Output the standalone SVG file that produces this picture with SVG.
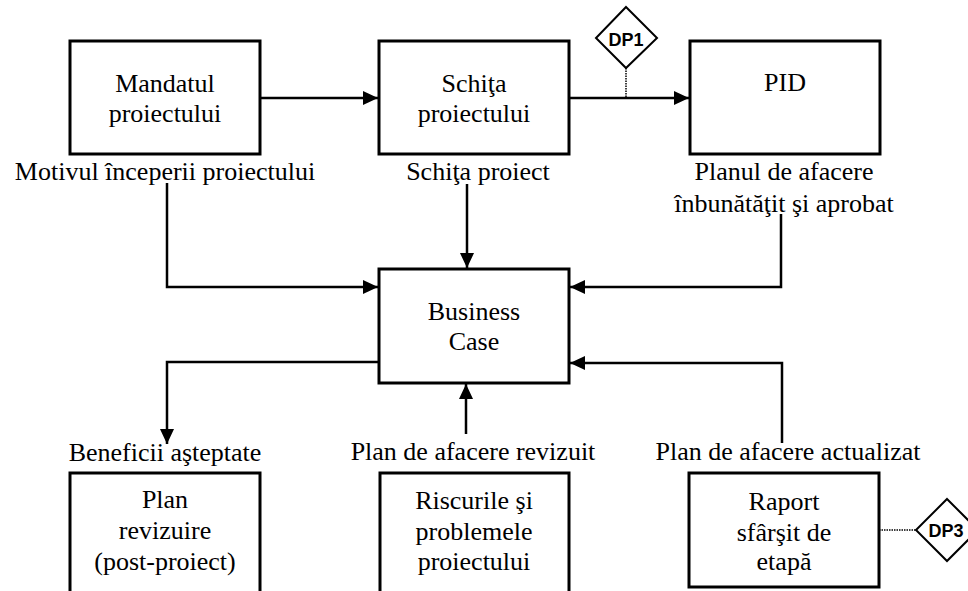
<svg xmlns="http://www.w3.org/2000/svg" width="968" height="591" viewBox="0 0 968 591">
<style>
.box{fill:#fff;stroke:#000;stroke-width:3}
.ln{fill:none;stroke:#000;stroke-width:2.5}
.dot{fill:none;stroke:#000;stroke-width:1.5;stroke-dasharray:1.5 1}
.dia{fill:#fff;stroke:#000;stroke-width:2}
.t{font-family:'Liberation Serif','Times New Roman',Times,serif;font-size:26px;fill:#000;text-anchor:middle}
.dp{font-family:'Liberation Sans',Arial,sans-serif;font-size:18px;font-weight:bold;fill:#000;text-anchor:middle}
</style>
<defs>
<marker id="ah" markerWidth="15" markerHeight="14" refX="15" refY="7" orient="auto" markerUnits="userSpaceOnUse">
<path d="M0,0 L15,7 L0,14 Z" fill="#000"/>
</marker>
</defs>
<rect width="968" height="591" fill="#fff"/>
<g id="connectors">
<path class="ln" d="M260,98 H378" marker-end="url(#ah)"/>
<path class="ln" d="M569,98 H689" marker-end="url(#ah)"/>
<path class="dot" d="M626,68 V98"/>
<path class="ln" d="M167,183 V287 H378" marker-end="url(#ah)"/>
<path class="ln" d="M467,184 V268" marker-end="url(#ah)"/>
<path class="ln" d="M781,214 V287 H570" marker-end="url(#ah)"/>
<path class="ln" d="M379,362 H167 V444" marker-end="url(#ah)"/>
<path class="ln" d="M466,434 V384" marker-end="url(#ah)"/>
<path class="ln" d="M782,443 V363 H570" marker-end="url(#ah)"/>
<path class="dot" d="M879,530 H916"/>
</g>
<g id="mandatul" class="t" font-family="Liberation Serif, serif">
<rect class="box" x="70" y="41" width="190" height="113"/>
<text x="165" y="92">Mandatul</text>
<text x="165" y="122">proiectului</text>
<text x="165" y="180">Motivul începerii proiectului</text>
</g>
<g id="schita" class="t" font-family="Liberation Serif, serif">
<rect class="box" x="379" y="41" width="190" height="113"/>
<text x="474" y="92">Schiţa</text>
<text x="474" y="122">proiectului</text>
<text x="478" y="180">Schiţa proiect</text>
</g>
<g id="pid" class="t" font-family="Liberation Serif, serif">
<rect class="box" x="690" y="41" width="190" height="113"/>
<text x="785" y="91">PID</text>
<text x="784" y="180">Planul de afacere</text>
<text x="784" y="212">înbunătăţit şi aprobat</text>
</g>
<g id="dp1">
<polygon class="dia" points="626,7 657,38 626,68 596,38"/>
<text class="dp" x="626" y="46">DP1</text>
</g>
<g id="business-case" class="t" font-family="Liberation Serif, serif">
<rect class="box" x="379" y="269" width="190" height="114"/>
<text x="474" y="320">Business</text>
<text x="474" y="350">Case</text>
</g>
<g id="plan-revizuire" class="t" font-family="Liberation Serif, serif">
<text x="165" y="461">Beneficii aşteptate</text>
<rect class="box" x="70" y="473" width="190" height="130"/>
<text x="165" y="508">Plan</text>
<text x="165" y="539">revizuire</text>
<text x="165" y="570">(post-proiect)</text>
</g>
<g id="riscurile" class="t" font-family="Liberation Serif, serif">
<text x="473" y="460">Plan de afacere revizuit</text>
<rect class="box" x="380" y="473" width="189" height="130"/>
<text x="474" y="509">Riscurile şi</text>
<text x="474" y="540">problemele</text>
<text x="474" y="570">proiectului</text>
</g>
<g id="raport" class="t" font-family="Liberation Serif, serif">
<text x="788" y="460">Plan de afacere actualizat</text>
<rect class="box" x="689" y="473" width="190" height="114"/>
<text x="784" y="510">Raport</text>
<text x="784" y="541">sfârşit de</text>
<text x="784" y="570">etapă</text>
</g>
<g id="dp3">
<polygon class="dia" points="947,499 978,530 947,561 916,530"/>
<text class="dp" x="946" y="537">DP3</text>
</g>
</svg>
